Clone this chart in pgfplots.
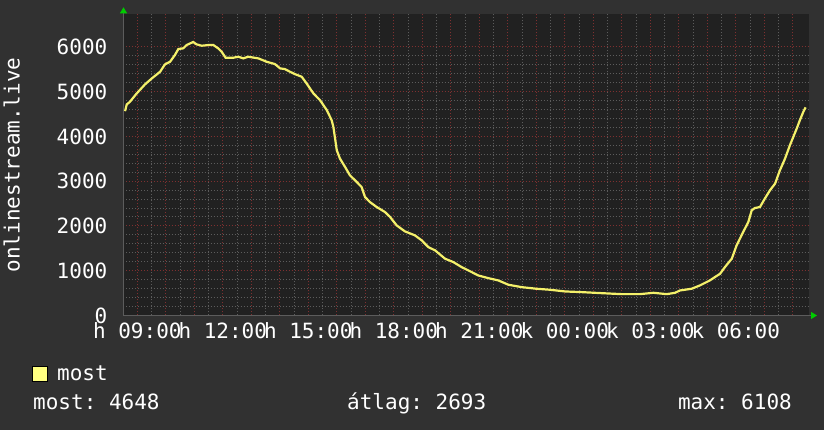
\documentclass[border=0pt]{standalone}
\usepackage{fontspec}
\setmainfont{DejaVu Sans Mono}
\usepackage{pgfplots}
\usepackage{pgfplotstable}
\pgfplotsset{compat=1.18}
\usetikzlibrary{arrows.meta}
\definecolor{outerbg}{HTML}{313131}
\definecolor{plotbg}{HTML}{212121}
\definecolor{gridminor}{HTML}{5C5C5C}
\definecolor{gridmajor}{HTML}{7E3030}
\definecolor{curve}{HTML}{F4F06A}
\definecolor{legfill}{HTML}{FFFF80}
\definecolor{arrowgreen}{HTML}{00CC00}

\pgfplotstableread{
h v
-0.43 4564
-0.37 4713
-0.26 4772
-0.02 4960
0.27 5161
0.51 5295
0.80 5443
0.97 5608
1.15 5667
1.32 5817
1.44 5951
1.61 5966
1.73 6040
1.96 6108
2.08 6056
2.26 6025
2.49 6040
2.67 6040
2.84 5966
2.96 5890
3.10 5756
3.37 5756
3.54 5779
3.72 5742
3.89 5779
4.25 5742
4.54 5667
4.83 5615
5.01 5519
5.18 5503
5.36 5443
5.53 5391
5.77 5332
5.94 5183
6.18 4960
6.41 4810
6.65 4586
6.82 4362
6.88 4213
6.94 3953
7.00 3691
7.11 3506
7.29 3318
7.46 3132
7.70 2982
7.87 2870
7.99 2647
8.16 2535
8.40 2423
8.69 2311
8.87 2200
9.10 2013
9.39 1879
9.74 1790
9.98 1678
10.21 1528
10.45 1454
10.80 1268
11.09 1193
11.38 1081
11.67 990
11.96 895
12.32 834
12.67 783
13.02 687
13.49 633
14.01 597
14.48 575
15.01 537
15.59 522
16.29 499
17.00 477
17.64 477
18.11 507
18.58 477
18.87 507
19.04 559
19.45 597
19.74 671
20.09 783
20.45 933
20.62 1081
20.86 1268
21.03 1566
21.26 1864
21.44 2087
21.56 2349
21.67 2400
21.85 2423
22.02 2610
22.20 2796
22.38 2946
22.55 3244
22.73 3506
22.90 3803
23.02 3989
23.14 4177
23.25 4362
23.37 4548
23.45 4648
}\most

\begin{document}
\frenchspacing
\begin{tikzpicture}[font=\fontsize{21}{25}\selectfont\frenchspacing]
\fill[outerbg] (0,0) rectangle (824pt,430pt);
\useasboundingbox (0,0) rectangle (824pt,430pt);
\begin{axis}[
  at={(123.5pt,114.5pt)}, anchor=south west,
  scale only axis, width=685.5pt, height=301.2pt,
  xmin=-0.484, xmax=23.57, ymin=0, ymax=6727,
  axis background/.style={fill=plotbg},
  axis lines=left,
  axis line style={draw=gridminor, line width=1pt},
  x axis line style={-{Triangle[length=6pt,width=7pt,color=arrowgreen]}, shorten >=-8pt},
  y axis line style={-{Triangle[length=6pt,width=7pt,color=arrowgreen]}, shorten >=-7pt},
  grid=both,
  major grid style={gridmajor, dash pattern=on 1pt off 2pt, line width=1pt},
  minor grid style={gridminor, dash pattern=on 1pt off 2pt, line width=1pt},
  xtick={0,...,23},
  xticklabels={h 09:00,,,h 12:00,,,h 15:00,,,h 18:00,,,h 21:00,,,k 00:00,,,k 03:00,,,k 06:00,,},
  minor x tick num=1,
  ytick={0,1000,...,6000},
  minor y tick num=4,
  major tick length=0pt, minor tick length=0pt,
  ticklabel style={text=white},
  xticklabel style={anchor=north, inner sep=0pt, yshift=-7pt},
  yticklabel style={anchor=east, inner sep=0pt, xshift=-16pt},
  /pgf/number format/assume math mode=true,
  /pgf/number format/1000 sep={},
  ylabel={onlinestream.live},
  ylabel style={at={(axis description cs:-0.163,0.5)}, anchor=center, inner sep=0pt, text=white},
  legend style={at={(axis description cs:-0.1335,-0.1926)}, anchor=west, draw=none, fill=none, text=white, inner sep=0pt,
    /tikz/every odd column/.append style={column sep=7pt}},
  legend cell align=left,
]
\addplot[curve, line width=2.2pt, legend image code/.code={\filldraw[draw=black, fill=legfill, line width=1pt] (0pt,-7.5pt) rectangle (15pt,7.5pt);}] table[x=h, y=v] {\most};
\addlegendentry{most}
\end{axis}
\node[anchor=base west, text=white, inner sep=0pt] at (33pt,20pt) {most: 4648};
\node[anchor=base west, text=white, inner sep=0pt] at (347pt,20pt) {átlag: 2693};
\node[anchor=base east, text=white, inner sep=0pt] at (792pt,20pt) {max: 6108};
\end{tikzpicture}
\end{document}
